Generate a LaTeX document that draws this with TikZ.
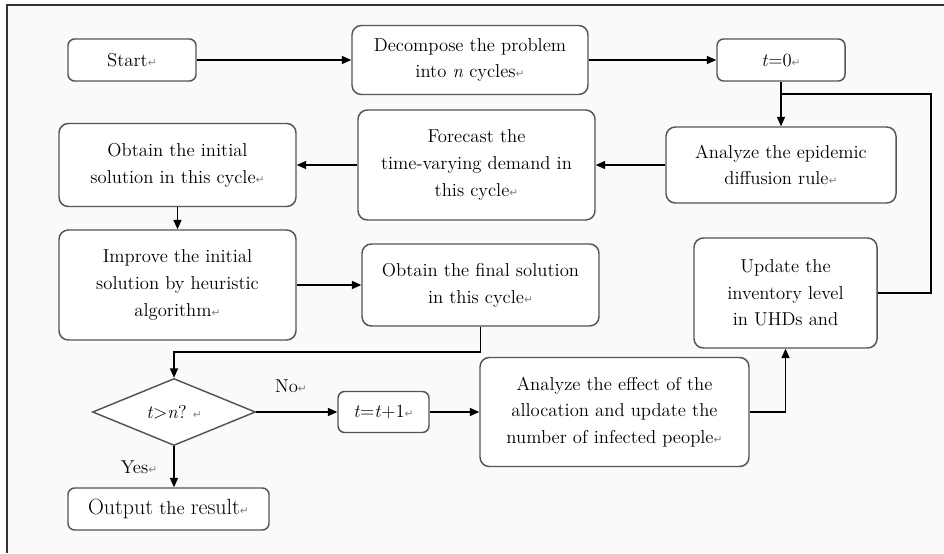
\documentclass[tikz,border=0pt]{standalone}
\usepackage{fontspec}
\newfontfamily\dejavu{DejaVu Sans}
\usetikzlibrary{arrows.meta,shapes.geometric}
\definecolor{bgc}{HTML}{FAFAF8}
\definecolor{edge}{HTML}{555555}
\newcommand\retmark{{\dejavu\fontsize{8}{8}\selectfont\color{gray}↵}}
\tikzset{
  box/.style 2 args={draw=edge, line width=1.1pt, fill=white, rounded corners=7pt,
    minimum width=#1*0.75pt, minimum height=#2*0.75pt, inner sep=0pt,
    align=center, font=\fontsize{14}{20}\selectfont},
  sbox/.style 2 args={box={#1}{#2}, rounded corners=5pt},
  conn/.style={line width=1pt, black},
  arr/.style={conn, -{Triangle[length=7pt,width=6pt]}},
  lab/.style={font=\fontsize{14}{15}\selectfont, inner sep=0pt}
}
\begin{document}
\begin{tikzpicture}[x=0.75pt,y=-0.75pt]
\useasboundingbox (0,0) rectangle (944,553);
\fill[white] (0,0) rectangle (944,553);
\fill[bgc] (7,5) rectangle (944,553);
\draw[line width=1.6pt, black!80] (7,553) -- (7,5) -- (944,5);

\node[sbox={128}{42}] (start) at (132,60) {Start\retmark};
\node[box={236}{69}] (decomp) at (470,60) {Decompose the problem\\ into \textit{n} cycles\retmark};
\node[sbox={128}{42}] (t0) at (781,60) {\textit{t}=0\retmark};
\node[box={237}{83}] (init) at (177.5,165) {Obtain the initial\\ solution in this cycle\retmark};
\node[box={237}{110}] (fore) at (476.5,165) {Forecast the\\ time-varying demand in\\ this cycle\retmark};
\node[box={230}{76}] (epi) at (781,165) {Analyze the epidemic\\ diffusion rule\retmark};
\node[box={237}{110}] (impr) at (177.5,285) {Improve the initial\\ solution by heuristic\\ algorithm\retmark};
\node[box={237}{82}] (final) at (480.5,285) {Obtain the final solution\\ in this cycle\retmark};
\node[box={183}{110}] (upd) at (785.5,293) {Update the\\ inventory level\\ in UHDs and};
\node[diamond, draw=edge, line width=1.1pt, fill=white, inner sep=0pt, aspect=2.43,
  minimum width=163*0.75pt, minimum height=67*0.75pt, font=\fontsize{14}{15}\selectfont]
  (dia) at (174,412) {\textit{t}>\textit{n}?\ \retmark};
\node[sbox={91}{41}] (tt1) at (383.5,412) {\textit{t}=\textit{t}+1\retmark};
\node[box={269}{109}] (eff) at (614.5,412) {Analyze the effect of the\\ allocation and update the\\ number of infected people\retmark};
\node[sbox={201}{42}] (out) at (168.5,509) {{\fontsize{16.5}{18}\selectfont Output} the {\fontsize{16.5}{18}\selectfont result}\retmark};

\coordinate (j) at (781,94);
\coordinate (loopr) at (931,94);
\coordinate (k) at (174,352);

\draw[arr] (start) -- (decomp);
\draw[arr] (decomp) -- (t0);
\draw[arr] (t0.south) -- (epi.north);
\draw[conn] (upd.east) -| (loopr) -- (j);
\draw[arr] (epi.west) -- (fore.east);
\draw[arr] (fore.west) -- (init.east);
\draw[arr] (init.south) -- (impr.north);
\draw[arr] (impr.east) -- (final.west);
\draw[arr] (final.south) |- (k) -- (dia.north);
\draw[arr] (dia.east) -- (tt1.west);
\draw[arr] (tt1.east) -- (eff.west);
\draw[arr] (eff.east) -| (upd.south);
\draw[arr] (dia.south) -- (dia.south |- out.north);

\node[lab] (no) at (291,386) {No\retmark};
\node[lab] (yes) at (139,467) {Yes\retmark};
\end{tikzpicture}
\end{document}
